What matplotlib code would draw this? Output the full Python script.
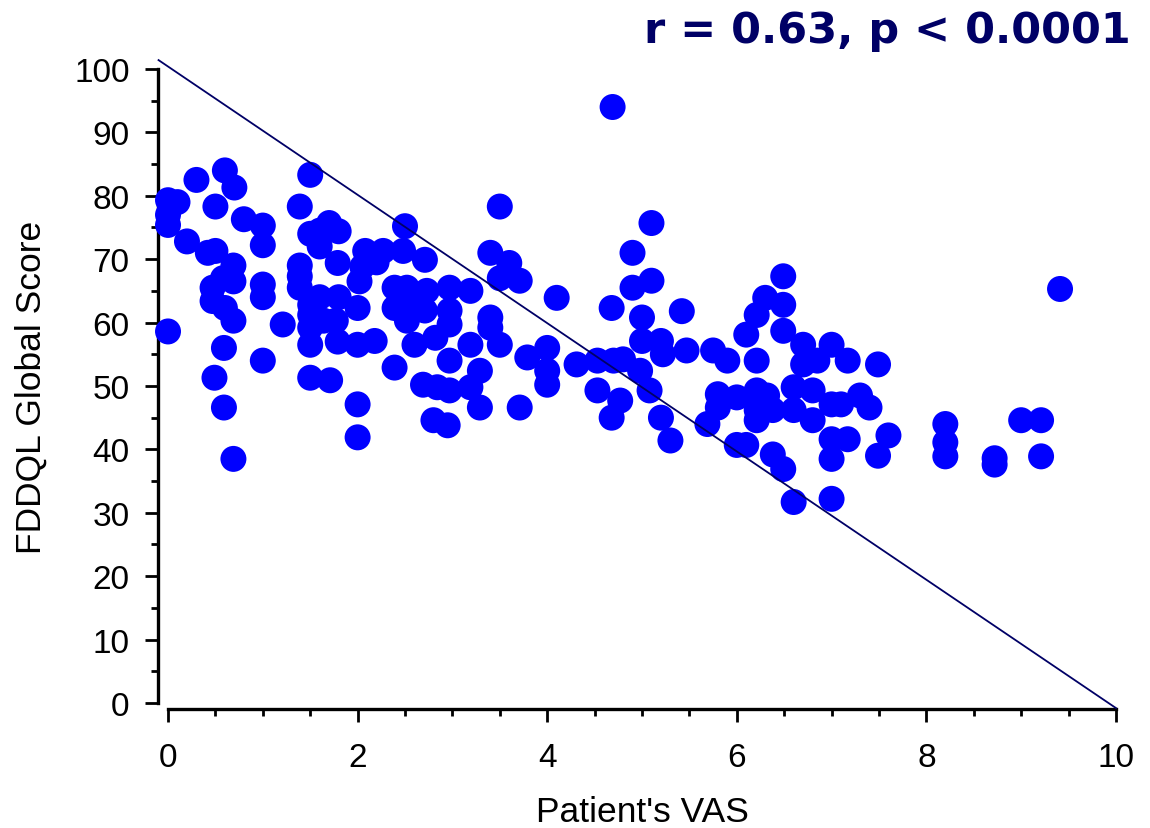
import matplotlib
matplotlib.use("Agg")
import matplotlib.pyplot as plt
from matplotlib.ticker import MultipleLocator

plt.rcParams['font.family'] = ['Liberation Sans', 'DejaVu Sans']

# Patient's VAS vs FDDQL global score
vas = [0.0, 0.1, 0.0, 0.0, 0.0, 0.2, 0.3, 0.42, 0.5, 0.5, 0.47, 0.47, 0.49,
       0.6, 0.58, 0.59, 0.59, 0.7, 0.69, 0.69, 0.69, 0.69, 0.6, 0.8, 1.0,
       1.0, 1.0, 1.0, 1.0, 1.21,
       1.39, 1.5, 1.39, 1.39, 1.39, 1.5, 1.6, 1.7, 1.8, 1.6, 1.79, 1.5, 1.5,
       1.5, 1.5, 1.6, 1.64, 1.8, 1.77, 1.79, 1.5, 1.71,
       2.0, 2.18, 2.0, 2.02, 2.05, 2.08, 2.27, 2.2, 2.48, 2.5, 2.71, 2.39,
       2.39, 2.52, 2.73, 2.52, 2.71, 2.6, 2.82, 2.39, 2.0, 2.0, 2.69, 2.84,
       2.8, 2.95, 2.6,
       2.97, 3.19, 2.97, 2.97, 3.4, 3.4, 3.5, 3.19, 2.97, 3.29, 3.79, 4.0,
       4.0, 4.0, 3.19, 2.97, 3.29, 3.71, 3.4, 3.6, 3.5, 3.71, 3.5, 4.1,
       4.31, 4.53, 4.7, 4.8, 5.0, 5.2, 5.22, 5.47, 4.98, 5.08, 4.53, 4.77,
       4.68, 5.2, 5.3, 5.69, 4.69, 5.1, 4.9, 4.9, 5.1, 4.68, 5.42, 5.0,
       5.75, 5.9, 6.49, 6.3, 6.49, 6.21, 6.1, 6.49, 6.7, 7.0, 6.21, 6.7,
       6.85, 7.17, 7.49, 5.8, 6.0, 6.21, 6.32, 6.6, 6.8, 6.21, 6.38, 6.6,
       6.8, 7.0, 7.1, 7.3, 7.4, 5.8, 6.21, 6.0, 6.1, 6.38, 6.49, 7.0, 7.17,
       7.0, 7.49, 7.6, 6.6, 7.0,
       8.2, 8.2, 8.2, 8.72, 8.72, 9.0, 9.21, 9.21, 9.41]
fddql = [79.3, 79.0, 75.4, 77.0, 58.6, 72.8, 82.5, 71.0, 71.3, 78.3, 65.5,
         63.4, 51.3, 84.0, 67.0, 56.0, 46.6, 81.3, 69.0, 66.5, 60.3, 38.5,
         62.3, 76.3, 75.3, 72.2, 66.0, 64.0, 54.0, 59.7,
         78.3, 83.3, 69.0, 65.5, 67.3, 74.0, 74.5, 75.7, 74.4, 72.0, 69.4,
         62.8, 61.2, 59.2, 56.5, 64.0, 60.3, 64.0, 60.3, 57.0, 51.3, 50.9,
         56.5, 57.1, 62.3, 66.5, 68.8, 71.3, 71.3, 69.5, 71.3, 75.2, 69.9,
         65.5, 62.3, 65.5, 65.0, 60.3, 61.9, 56.5, 57.6, 52.9, 47.1, 41.9,
         50.2, 49.8, 44.6, 43.8, 63.5,
         65.5, 65.0, 61.9, 59.7, 60.8, 59.2, 56.5, 56.5, 54.0, 52.4, 54.5,
         56.0, 52.4, 50.2, 49.8, 49.3, 46.6, 46.6, 71.0, 69.4, 67.0, 66.6,
         78.3, 63.9,
         53.4, 54.0, 54.0, 54.2, 57.1, 57.1, 55.0, 55.6, 52.4, 49.3, 49.3,
         47.7, 45.0, 45.0, 41.4, 44.0, 94.0, 75.7, 71.0, 65.5, 66.6, 62.3,
         61.8, 60.8,
         55.6, 54.0, 67.3, 63.9, 62.8, 61.2, 58.1, 58.7, 56.5, 56.5, 54.0,
         53.4, 54.0, 54.0, 53.4, 48.7, 48.2, 49.3, 48.5, 49.8, 49.3, 46.2,
         46.2, 46.2, 44.6, 47.1, 47.1, 48.5, 46.6, 46.6, 44.6, 40.7, 40.7,
         39.2, 36.9, 41.6, 41.6, 38.5, 39.0, 42.2, 31.7, 32.2,
         44.0, 41.1, 38.9, 38.6, 37.6, 44.6, 44.6, 38.9, 65.3]

# fitted line end points
line_x = [-0.1, 10.0]
line_y = [101.4, -0.8]

fig = plt.figure(figsize=(11.5, 8.29), dpi=100)
ax = fig.add_axes([0.1461, 0.1508, 0.8243, 0.7648])

ax.scatter(vas, fddql, s=350, color='#0000ff', edgecolors='none',
           zorder=3, clip_on=False)
ax.plot(line_x, line_y, color='#000066', lw=1.3, zorder=4, clip_on=False)

ax.set_xlim(0, 10)
ax.set_ylim(0, 100)

for side in ['top', 'right']:
    ax.spines[side].set_visible(False)
ax.spines['left'].set_position(('outward', 7.2))
ax.spines['bottom'].set_position(('outward', 4.5))
ax.spines['left'].set_bounds(0, 100)
ax.spines['bottom'].set_bounds(0, 10)
ax.spines['left'].set_linewidth(2.4)
ax.spines['bottom'].set_linewidth(2.4)

ax.xaxis.set_major_locator(MultipleLocator(2))
ax.xaxis.set_minor_locator(MultipleLocator(0.5))
ax.yaxis.set_major_locator(MultipleLocator(10))
ax.yaxis.set_minor_locator(MultipleLocator(5))
ax.tick_params(which='major', width=2, labelsize=24)
ax.tick_params(which='minor', length=5, width=2)
ax.tick_params(axis='x', which='major', length=9.5, pad=14)
ax.tick_params(axis='y', which='major', length=9.5, pad=11)

ax.set_xlabel("Patient's VAS", fontsize=25.5, labelpad=16)
ax.set_ylabel('FDDQL Global Score', fontsize=25.5, labelpad=19)

fig.text(0.983, 0.963, 'r = 0.63, p < 0.0001', ha='right', va='center',
         fontsize=31, fontweight='bold', color='#000066',
         family=['DejaVu Sans'])

fig.savefig('out.png', dpi=100)
